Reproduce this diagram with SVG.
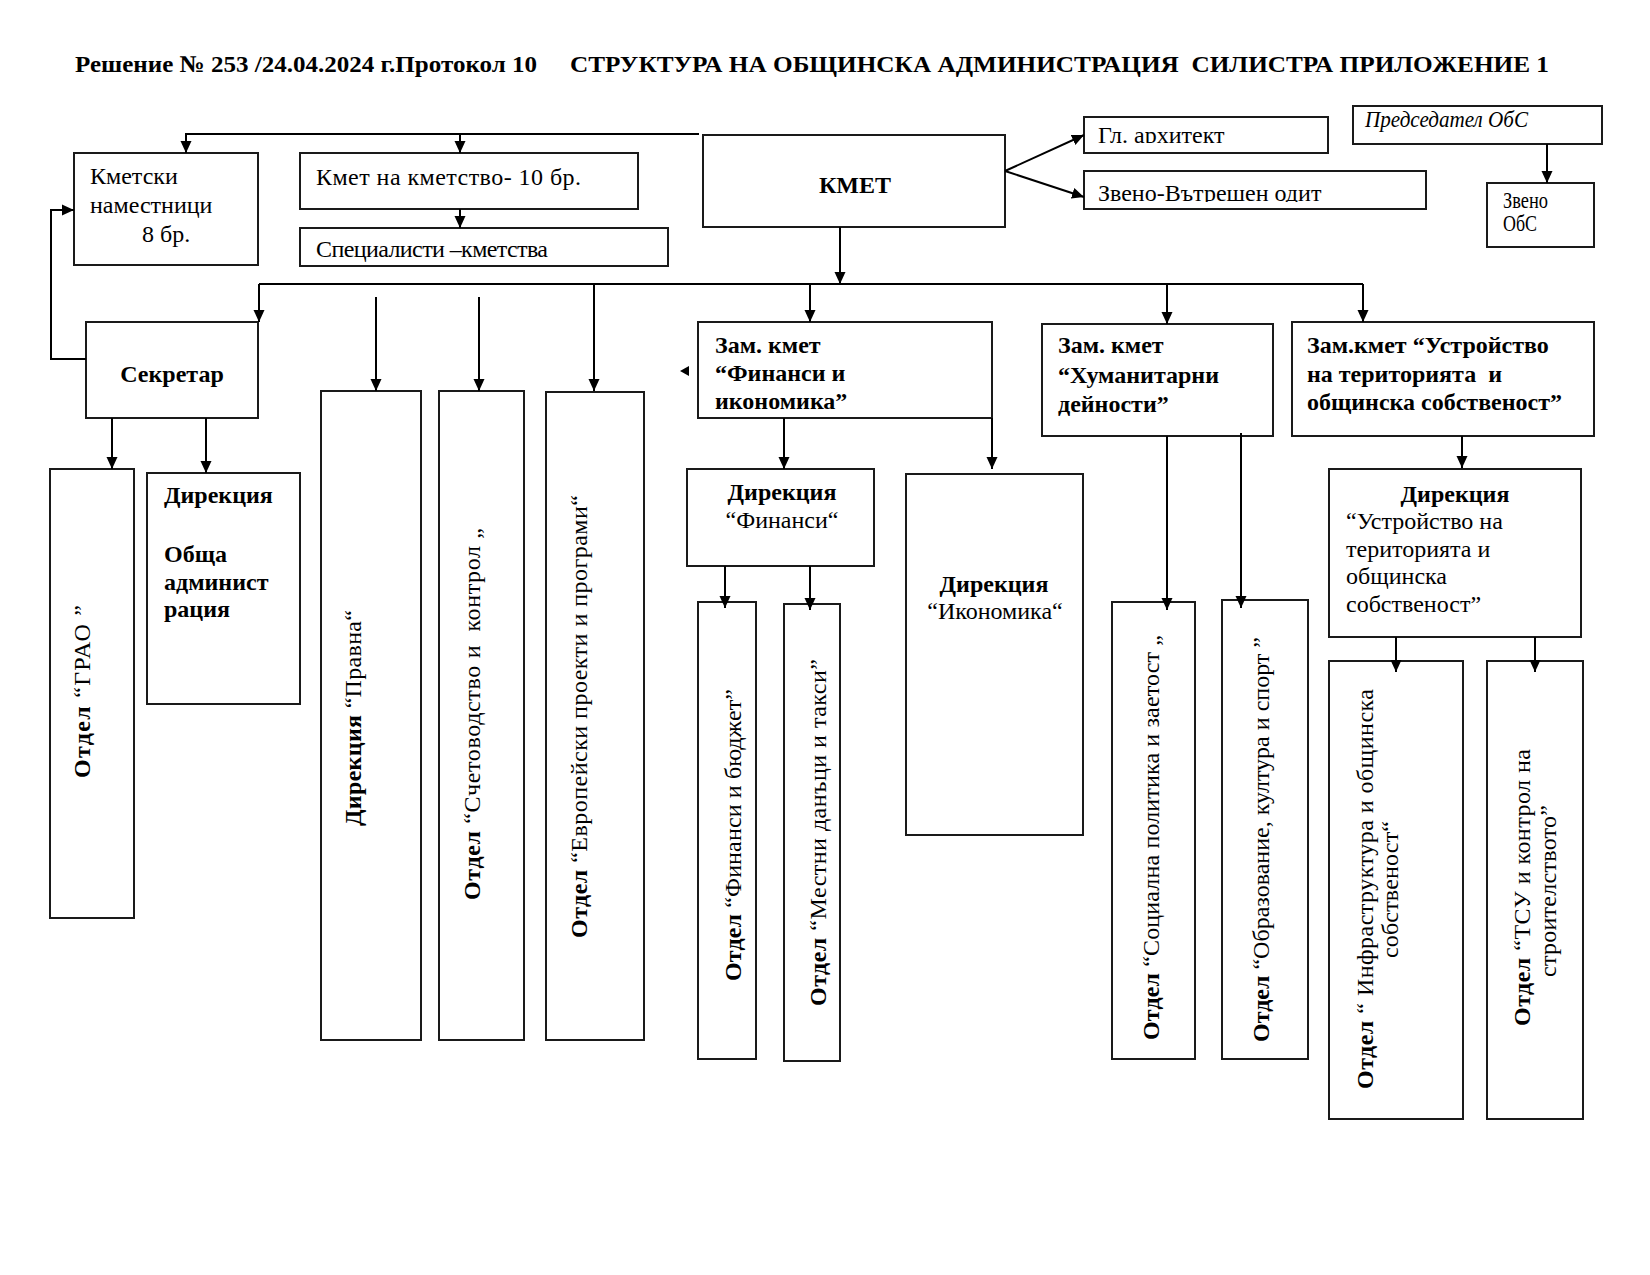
<svg xmlns="http://www.w3.org/2000/svg" width="1650" height="1275" viewBox="0 0 1650 1275">
<style>
.box{fill:#fff;stroke:#1a1a1a;stroke-width:2}
.t{font-family:"Liberation Serif","Times New Roman",serif;font-size:24px;fill:#000;white-space:pre}
.b{font-weight:bold}
.i{font-style:italic}
.c{text-anchor:middle}
.conn path{fill:none;stroke:#000;stroke-width:2}
</style>
<defs>
<marker id="ah" viewBox="0 0 12 12" refX="12" refY="6" markerWidth="12" markerHeight="12" markerUnits="userSpaceOnUse" orient="auto">
<path d="M0,0.5 L12,6 L0,11.5 z" fill="#000"/>
</marker>
<clipPath id="clipGl"><rect x="1084" y="117" width="244" height="26"/></clipPath>
<clipPath id="clipZv"><rect x="1084" y="171" width="342" height="31"/></clipPath>
</defs>
<rect width="1650" height="1275" fill="#fff"/>

<g id="title">
<text class="t b" x="75" y="72" font-size="23" textLength="462" lengthAdjust="spacingAndGlyphs">Решение № 253 /24.04.2024 г.Протокол 10</text>
<text class="t b" x="570" y="72" font-size="23" textLength="979" lengthAdjust="spacingAndGlyphs">СТРУКТУРА НА ОБЩИНСКА АДМИНИСТРАЦИЯ  СИЛИСТРА ПРИЛОЖЕНИЕ 1</text>
</g>

<g id="kmetski-namestnici">
<rect class="box" x="74" y="153" width="184" height="112"/>
<text class="t" x="90" y="184">Кметски</text>
<text class="t" x="90" y="213">наместници</text>
<text class="t" x="142" y="242">8 бр.</text>
</g>

<g id="kmet-kmetstvo">
<rect class="box" x="300" y="153" width="338" height="56"/>
<text class="t" x="316" y="185" textLength="265">Кмет на кметство- 10 бр.</text>
</g>

<g id="specialisti">
<rect class="box" x="300" y="228" width="368" height="38"/>
<text class="t" x="316" y="257" textLength="232">Специалисти –кметства</text>
</g>

<g id="kmet">
<rect class="box" x="703" y="135" width="302" height="92"/>
<text class="t b c" x="855" y="193">КМЕТ</text>
</g>

<g id="gl-arhitekt">
<rect class="box" x="1084" y="117" width="244" height="36"/>
<text class="t" x="1098" y="143" clip-path="url(#clipGl)">Гл. архитект</text>
</g>

<g id="zveno-odit">
<rect class="box" x="1084" y="171" width="342" height="38"/>
<text class="t" x="1098" y="201" clip-path="url(#clipZv)">Звено-Вътрешен одит</text>
</g>

<g id="predsedatel">
<rect class="box" x="1353" y="106" width="249" height="38"/>
<text class="t i" x="1365" y="127" font-size="20" textLength="163" lengthAdjust="spacingAndGlyphs">Председател ОбС</text>
</g>

<g id="zveno-obs">
<rect class="box" x="1487" y="183" width="107" height="64"/>
<text class="t" x="1503" y="208" font-size="16" textLength="45" lengthAdjust="spacingAndGlyphs">Звено</text>
<text class="t" x="1503" y="231" font-size="16" textLength="34" lengthAdjust="spacingAndGlyphs">ОбС</text>
</g>

<g id="sekretar">
<rect class="box" x="86" y="322" width="172" height="96"/>
<text class="t b c" x="172" y="382">Секретар</text>
</g>

<g id="zam-finansi">
<rect class="box" x="698" y="322" width="294" height="96"/>
<text class="t b" x="715" y="353">Зам. кмет</text>
<text class="t b" x="715" y="381">“Финанси и</text>
<text class="t b" x="715" y="409">икономика”</text>
</g>

<g id="zam-humanitarni">
<rect class="box" x="1042" y="324" width="231" height="112"/>
<text class="t b" x="1058" y="353">Зам. кмет</text>
<text class="t b" x="1058" y="383">“Хуманитарни</text>
<text class="t b" x="1058" y="412">дейности”</text>
</g>

<g id="zam-ustroistvo">
<rect class="box" x="1292" y="322" width="302" height="114"/>
<text class="t b" x="1307" y="353">Зам.кмет “Устройство</text>
<text class="t b" x="1307" y="382">на територията  и</text>
<text class="t b" x="1307" y="410">общинска собственост”</text>
</g>

<g id="otdel-grao">
<rect class="box" x="50" y="469" width="84" height="449"/>
<text class="t" transform="translate(90,778) rotate(-90)" textLength="173"><tspan class="b">Отдел</tspan> “ГРАО ”</text>
</g>

<g id="dir-obshta">
<rect class="box" x="147" y="473" width="153" height="231"/>
<text class="t b" x="164" y="503">Дирекция</text>
<text class="t b" x="164" y="562">Обща</text>
<text class="t b" x="164" y="590">админист</text>
<text class="t b" x="164" y="617">рация</text>
</g>

<g id="dir-pravna">
<rect class="box" x="321" y="391" width="100" height="649"/>
<text class="t" transform="translate(361,826) rotate(-90)" textLength="216"><tspan class="b">Дирекция</tspan> “Правна“</text>
</g>

<g id="otdel-schetovodstvo">
<rect class="box" x="439" y="391" width="85" height="649"/>
<text class="t" transform="translate(480,900) rotate(-90)" textLength="372"><tspan class="b">Отдел</tspan> “Счетоводство и  контрол „</text>
</g>

<g id="otdel-evropeiski">
<rect class="box" x="546" y="392" width="98" height="648"/>
<text class="t" transform="translate(587,938) rotate(-90)" textLength="443"><tspan class="b">Отдел</tspan> “Европейски проекти и програми“</text>
</g>

<g id="dir-finansi">
<rect class="box" x="687" y="469" width="187" height="97"/>
<text class="t b c" x="782" y="500">Дирекция</text>
<text class="t c" x="782" y="528">“Финанси“</text>
</g>

<g id="dir-ikonomika">
<rect class="box" x="906" y="474" width="177" height="361"/>
<text class="t b c" x="994" y="592">Дирекция</text>
<text class="t c" x="995" y="619">“Икономика“</text>
</g>

<g id="otdel-finansi-budjet">
<rect class="box" x="698" y="602" width="58" height="457"/>
<text class="t" transform="translate(741,981) rotate(-90)" textLength="292"><tspan class="b">Отдел</tspan> “Финанси и бюджет”</text>
</g>

<g id="otdel-mestni-danaci">
<rect class="box" x="784" y="604" width="56" height="457"/>
<text class="t" transform="translate(826,1006) rotate(-90)" textLength="347"><tspan class="b">Отдел</tspan> “Местни данъци и такси”</text>
</g>

<g id="otdel-socialna">
<rect class="box" x="1112" y="602" width="83" height="457"/>
<text class="t" transform="translate(1159,1040) rotate(-90)" textLength="405"><tspan class="b">Отдел</tspan> “Социална политика и заетост „</text>
</g>

<g id="otdel-obrazovanie">
<rect class="box" x="1222" y="600" width="86" height="459"/>
<text class="t" transform="translate(1269,1042) rotate(-90)" textLength="405"><tspan class="b">Отдел</tspan> “Образование, култура и спорт ”</text>
</g>

<g id="dir-ustroistvo">
<rect class="box" x="1329" y="469" width="252" height="168"/>
<text class="t b c" x="1455" y="502">Дирекция</text>
<text class="t" x="1346" y="529">“Устройство на</text>
<text class="t" x="1346" y="557">територията и</text>
<text class="t" x="1346" y="584">общинска</text>
<text class="t" x="1346" y="612">собственост”</text>
</g>

<g id="otdel-infrastruktura">
<rect class="box" x="1329" y="661" width="134" height="458"/>
<text class="t" transform="translate(1373,1089) rotate(-90)" textLength="400"><tspan class="b">Отдел</tspan> “ Инфраструктура и общинска</text>
<text class="t" transform="translate(1398,958) rotate(-90)" textLength="137">собственост“</text>
</g>

<g id="otdel-tsu">
<rect class="box" x="1487" y="661" width="96" height="458"/>
<text class="t" transform="translate(1530,1026) rotate(-90)" textLength="277"><tspan class="b">Отдел</tspan> “ТСУ и контрол на</text>
<text class="t" transform="translate(1556,977) rotate(-90)" textLength="172">строителството”</text>
</g>

<g class="conn" id="connectors">
<path d="M699,134 H186 V153" marker-end="url(#ah)"/>
<path d="M460,134 V153" marker-end="url(#ah)"/>
<path d="M460,209 V228" marker-end="url(#ah)"/>
<path d="M1005,171 L1084,135" marker-end="url(#ah)"/>
<path d="M1005,171 L1084,197" marker-end="url(#ah)"/>
<path d="M1547,144 V183" marker-end="url(#ah)"/>
<path d="M840,227 V284" marker-end="url(#ah)"/>
<path d="M259,284 H1363"/>
<path d="M259,284 V322" marker-end="url(#ah)"/>
<path d="M810,284 V322" marker-end="url(#ah)"/>
<path d="M1167,284 V324" marker-end="url(#ah)"/>
<path d="M1363,284 V322" marker-end="url(#ah)"/>
<path d="M376,297 V391" marker-end="url(#ah)"/>
<path d="M479,297 V391" marker-end="url(#ah)"/>
<path d="M594,284 V391" marker-end="url(#ah)"/>
<path d="M86,359 H51 V210 H74" marker-end="url(#ah)"/>
<path d="M112,418 V469" marker-end="url(#ah)"/>
<path d="M206,418 V473" marker-end="url(#ah)"/>
<path d="M784,418 V469" marker-end="url(#ah)"/>
<path d="M992,418 V469" marker-end="url(#ah)"/>
<path d="M725,566 V608" marker-end="url(#ah)"/>
<path d="M810,566 V610" marker-end="url(#ah)"/>
<path d="M1167,436 V610" marker-end="url(#ah)"/>
<path d="M1241,433 V608" marker-end="url(#ah)"/>
<path d="M1462,436 V468" marker-end="url(#ah)"/>
<path d="M1396,637 V672" marker-end="url(#ah)"/>
<path d="M1535,637 V672" marker-end="url(#ah)"/>
<polygon points="680,371 689,366 689,376" fill="#000"/>
</g>
</svg>
